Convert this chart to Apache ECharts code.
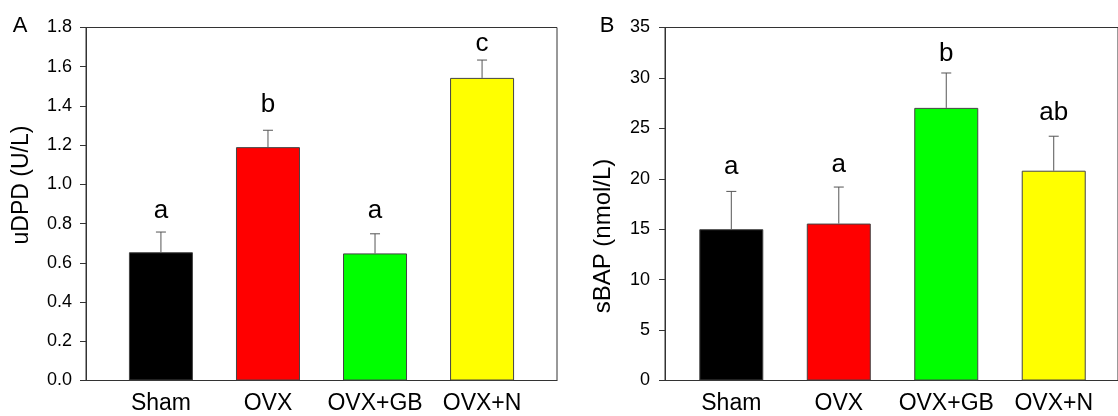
<!DOCTYPE html>
<html>
<head>
<meta charset="utf-8">
<script src="https://cdn.jsdelivr.net/npm/echarts@6/dist/echarts.min.js"></script>
<style>html,body{margin:0;padding:0;background:#fff}#c{width:1118px;height:416px}</style>
</head>
<body>
<div id="c"></div>
<script>
// ---- data ----
var categories = ['Sham', 'OVX', 'OVX+GB', 'OVX+N'];
var barColors = ['#000000', '#ff0000', '#00ff00', '#ffff00'];
// Panel A: uDPD (U/L)
var uDPD = [0.654, 1.19, 0.648, 1.543];
var uDPDerr = [0.103, 0.086, 0.10, 0.091];
var uDPDletters = ['a', 'b', 'a', 'c'];
var uDPDletterLevel = [0.864, 1.408, 0.864, 1.718];
var uDPDticks = [0, 0.2, 0.4, 0.6, 0.8, 1.0, 1.2, 1.4, 1.6, 1.8];
// Panel B: sBAP (nmol/L)
var sBAP = [15.0, 15.56, 27.03, 20.8];
var sBAPerr = [3.75, 3.62, 3.46, 3.42];
var sBAPletters = ['a', 'a', 'b', 'ab'];
var sBAPletterLevel = [21.16, 21.42, 32.4, 26.56];
var sBAPticks = [0, 5, 10, 15, 20, 25, 30, 35];

var FONT = 'Liberation Sans, Arial, sans-serif';
var AX = '#333333';

function barData(vals) {
  return vals.map(function (v, i) {
    return { value: [i, v], itemStyle: { color: barColors[i] } };
  });
}
function errData(vals, errs) {
  return vals.map(function (v, i) { return [i, v, v + errs[i]]; });
}
function letterData(letters, lv) {
  return letters.map(function (t, i) { return [i, lv[i], t]; });
}
function errRender(params, api) {
  var x = api.value(0);
  var p0 = api.coord([x, api.value(1)]);
  var p1 = api.coord([x, api.value(2)]);
  var hw = 5;
  return {
    type: 'group',
    children: [
      { type: 'line', shape: { x1: p0[0], y1: p0[1], x2: p1[0], y2: p1[1] }, style: { stroke: '#555', lineWidth: 1 } },
      { type: 'line', shape: { x1: p1[0] - hw, y1: p1[1], x2: p1[0] + hw, y2: p1[1] }, style: { stroke: '#555', lineWidth: 1 } }
    ]
  };
}
var letters = [uDPDletters, sBAPletters];
function letterRender(params, api) {
  var p = api.coord([api.value(0), api.value(1)]);
  return {
    type: 'text',
    x: p[0], y: p[1],
    style: { text: letters[params.seriesIndex === 2 ? 0 : 1][params.dataIndex], fontSize: 26, fontFamily: FONT, fill: '#000', align: 'center', verticalAlign: 'middle' }
  };
}

function xAxis(gi, min, max) {
  return {
    type: 'value', gridIndex: gi, min: min, max: max,
    axisLine: { show: true, onZero: false, lineStyle: { color: AX, width: 1 } },
    axisTick: { show: false },
    splitLine: { show: false },
    axisLabel: {
      customValues: [0, 1, 2, 3],
      formatter: function (v) { return categories[Math.round(v)] || ''; },
      fontSize: 23, fontFamily: FONT, color: '#000', margin: 12
    }
  };
}
function yAxis(gi, ticks, dec, margin) {
  return {
    type: 'value', gridIndex: gi, min: ticks[0], max: ticks[ticks.length - 1],
    interval: ticks[1] - ticks[0],
    axisLine: { show: true, onZero: false, lineStyle: { color: AX, width: 1 } },
    axisTick: { show: true, length: 6, lineStyle: { color: AX } },
    splitLine: { show: false },
    axisLabel: {
      formatter: function (v) { return v.toFixed(dec); },
      fontSize: 18, fontFamily: FONT, color: '#000', margin: margin
    }
  };
}

var chart = echarts.init(document.getElementById('c'), null, { renderer: 'canvas' });
chart.setOption({
  animation: false,
  backgroundColor: '#fff',
  grid: [
    { left: 86, top: 27.5, width: 471, height: 353, show: true, borderColor: AX, borderWidth: 1, backgroundColor: 'transparent' },
    { left: 665, top: 27.5, width: 454, height: 353, show: true, borderColor: AX, borderWidth: 1, backgroundColor: 'transparent' }
  ],
  xAxis: [xAxis(0, -0.70, 3.70), xAxis(1, -0.617, 3.598)],
  yAxis: [yAxis(0, uDPDticks, 1, 14), yAxis(1, sBAPticks, 0, 15)],
  series: [
    { type: 'bar', xAxisIndex: 0, yAxisIndex: 0, barWidth: 64, data: barData(uDPD), itemStyle: { borderColor: '#444', borderWidth: 1 } },
    { type: 'custom', xAxisIndex: 0, yAxisIndex: 0, renderItem: errRender, data: errData(uDPD, uDPDerr), z: 3 },
    { type: 'custom', xAxisIndex: 0, yAxisIndex: 0, renderItem: letterRender, data: letterData(uDPDletters, uDPDletterLevel), z: 4 },
    { type: 'bar', xAxisIndex: 1, yAxisIndex: 1, barWidth: 64, data: barData(sBAP), itemStyle: { borderColor: '#444', borderWidth: 1 } },
    { type: 'custom', xAxisIndex: 1, yAxisIndex: 1, renderItem: errRender, data: errData(sBAP, sBAPerr), z: 3 },
    { type: 'custom', xAxisIndex: 1, yAxisIndex: 1, renderItem: letterRender, data: letterData(sBAPletters, sBAPletterLevel), z: 4 }
  ],
  graphic: [
    { type: 'text', x: 22, y: 185, rotation: Math.PI / 2, style: { text: 'uDPD (U/L)', fontSize: 23, fontFamily: FONT, fill: '#000', align: 'center', verticalAlign: 'middle' } },
    { type: 'text', x: 603, y: 236, rotation: Math.PI / 2, style: { text: 'sBAP (nmol/L)', fontSize: 24, fontFamily: FONT, fill: '#000', align: 'center', verticalAlign: 'middle' } },
    { type: 'text', x: 20, y: 26, style: { text: 'A', fontSize: 22, fontFamily: FONT, fill: '#000', align: 'center', verticalAlign: 'middle' } },
    { type: 'text', x: 607, y: 26, style: { text: 'B', fontSize: 22, fontFamily: FONT, fill: '#000', align: 'center', verticalAlign: 'middle' } }
  ]
});
</script>
</body>
</html>
